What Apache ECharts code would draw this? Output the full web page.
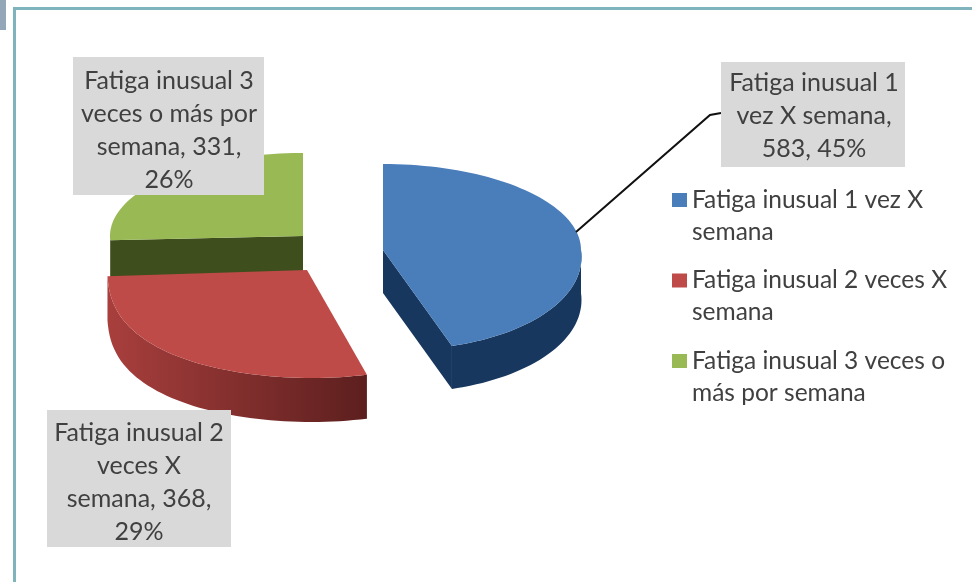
<!DOCTYPE html>
<html>
<head>
<meta charset="utf-8">
<style>
  html, body { margin: 0; padding: 0; background: #fff; }
  #chart { width: 972px; height: 582px; }
</style>
</head>
<body>
<div id="chart"></div>
<script src="https://cdn.jsdelivr.net/npm/echarts@6/dist/echarts.min.js"></script>
<script>
const categories = [
  "Fatiga inusual 1 vez X semana",
  "Fatiga inusual 2 veces X semana",
  "Fatiga inusual 3 veces o más por semana",
];
const values = [583, 368, 331];
const percents = [45, 29, 26];
const labelLines = [
  ["Fatiga inusual 1", "vez X semana,"],
  ["Fatiga inusual 2", "veces X", "semana,"],
  ["Fatiga inusual 3", "veces o más por", "semana,"],
];
const legendLines = [
  "Fatiga inusual 1 vez X\nsemana",
  "Fatiga inusual 2 veces X\nsemana",
  "Fatiga inusual 3 veces o\nmás por semana",
];

const FONT = "Lato";
const total = values.reduce((a, b) => a + b, 0);

// forma de cada porción (falso 3D): centro, radios, grueso
const slices = [
  {
    cx: 383, cy: 250, rx: 198, back: 86, front: 100, p: 1, lift: 0, shear: 14, depth: 43,
    top: "#4a7ebb", side: "#17375e", cut: "#17375e",
    box: [721, 62, 184, 105], text: [814, 116],
    lead: [[576, 232], [710, 115], [721, 113]],
  },
  {
    cx: 307, cy: 270, rx: 200, back: 86, front: 108, p: 0.75, lift: 0.03, shear: 4, depth: 44,
    top: "#be4b48", side: ["#a83f3d", "#5c1f1e"], cut: "#772c2a",
    box: [47, 410, 184, 137], text: [139, 482],
  },
  {
    cx: 303, cy: 236, rx: 193, back: 83, front: 83, p: 1, lift: 0, shear: 0, depth: 38,
    top: "#98b954", side: "#3f4e1d", cut: "#3f4e1d",
    box: [73, 57, 191, 138], text: [169, 130],
  },
];

function point(s, deg) {
  const t = (deg * Math.PI) / 180;
  const c = Math.cos(t);
  const x = s.cx + s.rx * Math.sin(t);
  if (c >= 0) return [x, s.cy - s.back * c];
  const near = Math.max(0, (-c - s.lift) / (1 - s.lift));
  return [x + s.shear * -c, s.cy + s.front * Math.pow(near, s.p)];
}

function down(pts, d) {
  return pts.map((q) => [q[0], q[1] + d]).reverse();
}

function arcPoints(s, from, to) {
  const pts = [];
  for (let a = from; a < to; a += 2) pts.push(point(s, a));
  pts.push(point(s, to));
  return pts;
}

function renderSlice(params, api) {
  const i = params.seriesIndex;
  const s = slices[i];
  const value = api.value(0);
  let before = 0;
  for (let k = 0; k < i; k++) before += values[k];
  const start = (before / total) * 360;
  const end = ((before + value) / total) * 360;
  const center = [s.cx, s.cy];
  const children = [];

  // cara del corte que mira hacia adelante
  const cutAngle = Math.sin((start * Math.PI) / 180) < -0.01 ? start
    : Math.sin((end * Math.PI) / 180) > 0.01 ? end : null;
  if (cutAngle !== null) {
    const edge = [center, point(s, cutAngle)];
    children.push({
      type: "polygon",
      shape: { points: edge.concat(down(edge, s.depth)) },
      style: { fill: s.cut },
    });
  }

  // borde exterior
  const from = Math.max(start, 90);
  const to = Math.min(end, 270);
  if (to > from) {
    const arc = arcPoints(s, from, to);
    const fill = Array.isArray(s.side)
      ? new echarts.graphic.LinearGradient(1, 0, 0, 0, [
          { offset: 0, color: s.side[1] },
          { offset: 1, color: s.side[0] },
        ])
      : s.side;
    children.push({
      type: "polygon",
      shape: { points: arc.concat(down(arc, s.depth)) },
      style: { fill: fill },
    });
  }

  // cara superior
  children.push({
    type: "polygon",
    shape: { points: [center].concat(arcPoints(s, start, end)) },
    style: { fill: s.top },
  });

  if (s.lead) {
    children.push({
      type: "polyline",
      shape: { points: s.lead },
      style: { stroke: "#111", lineWidth: 2, fill: "none" },
    });
  }

  children.push({
    type: "rect",
    shape: { x: s.box[0], y: s.box[1], width: s.box[2], height: s.box[3] },
    style: { fill: "#d9d9d9" },
  });
  const lines = labelLines[i].slice();
  const tail = value + ", " + percents[i] + "%";
  if (i === 0) lines.push(tail);
  else {
    lines[lines.length - 1] += " " + value + ",";
    lines.push(percents[i] + "%");
  }
  children.push({
    type: "text",
    style: {
      text: lines.join("\n"),
      x: s.text[0],
      y: s.text[1],
      align: "center",
      verticalAlign: "middle",
      font: "25px " + FONT,
      lineHeight: 33,
      fill: "#404040",
    },
  });
  return { type: "group", children: children };
}

const chart = echarts.init(document.getElementById("chart"));
chart.setOption({
  animation: false,
  backgroundColor: "#fff",
  graphic: [
    { type: "rect", shape: { x: 0, y: 0, width: 6, height: 30 }, style: { fill: "#93a7b8" } },
    { type: "rect", shape: { x: 14, y: 7, width: 958, height: 3 }, style: { fill: "#7fb4bc" } },
    { type: "rect", shape: { x: 13, y: 7, width: 3, height: 575 }, style: { fill: "#7fb4bc" } },
  ],
  legend: {
    orient: "vertical",
    left: 667,
    top: 147,
    itemWidth: 15,
    itemHeight: 14,
    itemGap: -15.5,
    icon: "rect",
    selectedMode: false,
    data: categories,
    // la línea vacía deja el cuadrito a la altura de la primera línea
    formatter: (name) => "\n" + legendLines[categories.indexOf(name)],
    textStyle: {
      color: "#404040",
      fontFamily: FONT,
      fontSize: 24.5,
      lineHeight: 32,
    },
  },
  series: categories.map((name, i) => ({
    type: "custom",
    name: name,
    coordinateSystem: "none",
    silent: true,
    z: 3 - i,
    itemStyle: { color: slices[i].top },
    renderItem: renderSlice,
    data: [[values[i]]],
  })),
});
</script>
</body>
</html>
